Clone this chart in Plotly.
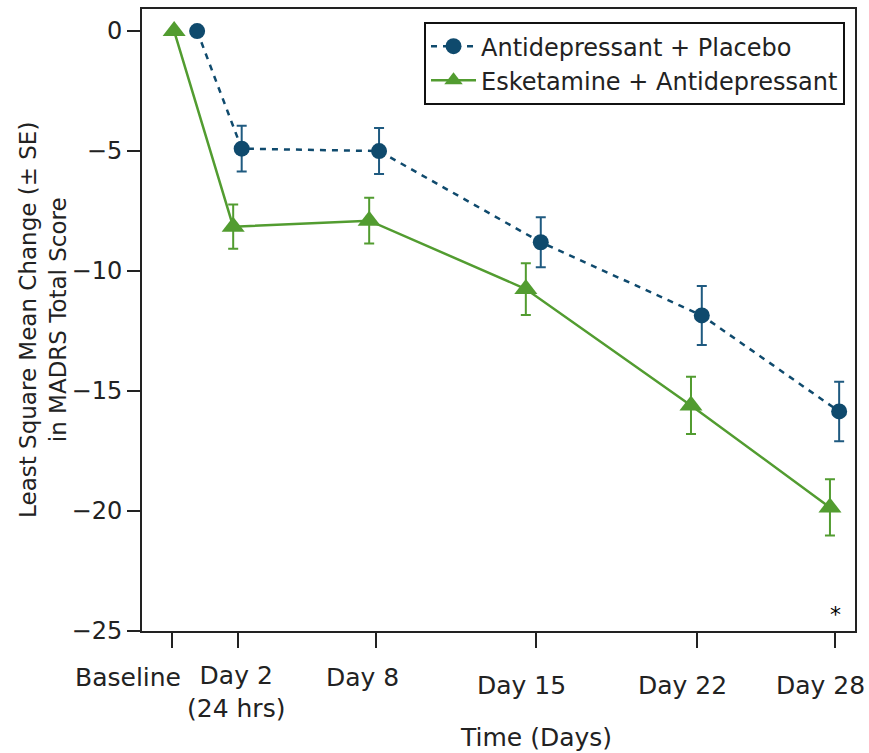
import plotly.graph_objects as go

# ---- data ----
timepoint_labels = ["Baseline", "Day 2<br>(24 hrs)", "Day 8", "Day 15", "Day 22", "Day 28"]
timepoint_days = [-0.86, 2, 8, 15, 22, 28]

placebo_name = "Antidepressant + Placebo"
placebo_days = [0.23, 2.17, 8.15, 15.19, 22.2, 28.18]
placebo_mean = [0.0, -4.9, -5.0, -8.8, -11.85, -15.85]
placebo_se = [0.0, 0.95, 0.96, 1.04, 1.23, 1.24]

esk_name = "Esketamine + Antidepressant"
esk_days = [-0.77, 1.80, 7.72, 14.54, 21.73, 27.78]
esk_mean = [0.0, -8.15, -7.9, -10.75, -15.6, -19.85]
esk_se = [0.0, 0.92, 0.95, 1.08, 1.19, 1.17]

y_ticks = [0, -5, -10, -15, -20, -25]

# ---- styles ----
FONT = "DejaVu Sans"
TXT = "#222222"
BLUE = "#0f4a6d"
BLUE_ERR = "#1f5a80"
GREEN = "#529c30"

fig = go.Figure()

fig.add_trace(go.Scatter(
    x=placebo_days, y=placebo_mean, name=placebo_name, mode="lines+markers",
    line=dict(color=BLUE, width=2.5, dash="6px,6px"),
    marker=dict(symbol="circle", size=16, color=BLUE),
    error_y=dict(type="data", array=placebo_se, visible=True,
                 color=BLUE_ERR, thickness=2, width=5),
))
fig.add_trace(go.Scatter(
    x=esk_days, y=esk_mean, name=esk_name, mode="lines+markers",
    line=dict(color=GREEN, width=2.5),
    marker=dict(symbol="triangle-up", size=20, color=GREEN),
    error_y=dict(type="data", array=esk_se, visible=True,
                 color=GREEN, thickness=2, width=5),
))

# x tick labels (offset below ticks as in the reference)
label_xshift = [-44, -2, -13, -15, -15, -15]
label_yshift = [-46, -61, -46, -54, -54, -54]
for d, lab, xs, ys in zip(timepoint_days, timepoint_labels, label_xshift, label_yshift):
    fig.add_annotation(x=d, xref="x", y=0, yref="paper", text=lab, showarrow=False,
                       xanchor="center", yanchor="middle", xshift=xs, yshift=ys,
                       align="center", font=dict(family=FONT, size=25, color=TXT))

# axis titles
fig.add_annotation(x=0.553, xref="paper", y=0, yref="paper", text="Time (Days)",
                   showarrow=False, xanchor="center", yanchor="middle", yshift=-106,
                   font=dict(family=FONT, size=25, color=TXT))
fig.add_annotation(x=-0.139, xref="paper", y=0.5, yref="paper",
                   text="Least Square Mean Change (± SE)<br>in MADRS Total Score",
                   textangle=-90, showarrow=False, xanchor="center", yanchor="middle",
                   align="center", font=dict(family=FONT, size=23, color=TXT))

# significance marker
fig.add_annotation(x=28, xref="x", y=-24.3, yref="y", text="*", showarrow=False,
                   xanchor="center", yanchor="middle",
                   font=dict(family=FONT, size=22, color="#000000"))

fig.update_layout(
    width=869, height=753,
    margin=dict(l=142, r=14, t=7, b=122),
    plot_bgcolor="white", paper_bgcolor="white",
    font=dict(family=FONT, color=TXT),
    showlegend=True,
    legend=dict(x=0.986, y=0.979, xanchor="right", yanchor="top",
                bgcolor="white", bordercolor="#111111", borderwidth=2,
                font=dict(family=FONT, size=24, color=TXT),
                itemwidth=45, tracegroupgap=0),
    xaxis=dict(range=[-2.17, 28.87], tickvals=timepoint_days,
               ticktext=["" for _ in timepoint_days],
               ticks="outside", ticklen=15, tickwidth=2, tickcolor=TXT,
               showline=True, linewidth=2, linecolor=TXT, mirror=True,
               showgrid=False, zeroline=False),
    yaxis=dict(range=[-25, 0.92], tickvals=y_ticks,
               ticks="outside", ticklen=13, tickwidth=2, tickcolor=TXT,
               tickfont=dict(family=FONT, size=24, color=TXT),
               showline=True, linewidth=2, linecolor=TXT, mirror=True,
               showgrid=False, zeroline=False),
)

fig.write_html("out.html")
